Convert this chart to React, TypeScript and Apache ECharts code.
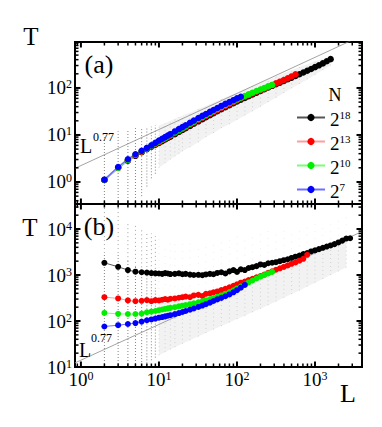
import React, { useEffect, useRef } from 'react';
import * as echarts from 'echarts';

const FONT = '"Liberation Serif", "Times New Roman", serif';

// system sizes L (shared grid of measured L values)
const L_VALUES = [2, 3, 4, 5, 6, 7, 8, 9, 10, 11, 12, 13, 14, 16, 18, 20, 22, 25, 28, 32, 36, 40, 45, 50, 56, 63, 71, 80, 90, 100, 112, 126, 141, 158, 178, 200, 224, 251, 282, 316, 355, 398, 447, 501, 562, 631, 708, 794, 891, 1000, 1122, 1259, 1413, 1585, 1778, 1995, 2239, 2512, 2818];

const SERIES_NAMES = ['N18', 'N13', 'N10', 'N7'];
const EXPONENTS = ['18', '13', '10', '7'];
const DOT_COLORS = ['#000000', '#ff0000', '#00ee00', '#0000ff'];
const LINE_COLORS = ['#555555', '#ff9c9c', '#77ff77', '#6f6fff'];

// panel (a)
const T_A_BLACK = [1.1, 2.0, 2.85, 3.6, 4.3, 5.0, 5.6, 6.2, 6.8, 7.4, 8.0, 8.6, 9.2, 10.4, 11.6, 12.8, 13.9, 15.6, 17.3, 19.5, 21.7, 23.8, 26.4, 29, 32, 35.4, 39, 43, 47.3, 51.5, 56.5, 61.5, 67, 73, 79.5, 86.5, 94, 102, 111, 120, 130, 141, 153, 166, 180, 196, 213, 232, 253, 278, 303, 333, 370, 410];
const T_A_RED = [1.1, 2.0, 2.9, 3.7, 4.4, 5.1, 5.7, 6.4, 7.0, 7.7, 8.3, 9.0, 9.6, 10.9, 12.1, 13.4, 14.6, 16.5, 18.3, 20.7, 23, 25.3, 28, 30.7, 33.8, 37.4, 41.3, 45.5, 50, 54.5, 59.5, 65, 70.5, 76.5, 83, 90, 97.5, 106, 115, 125, 136, 148, 161, 176, 195];
const T_A_GREEN = [1.1, 2.0, 2.95, 3.8, 4.5, 5.2, 5.9, 6.6, 7.3, 8.0, 8.7, 9.4, 10.0, 11.4, 12.7, 14.0, 15.3, 17.3, 19.2, 21.8, 24.2, 26.6, 29.5, 32.3, 35.6, 39.4, 43.5, 48, 52.5, 57, 62, 67.5, 73, 79, 86, 93, 100, 108, 116];
const T_A_BLUE = [1.12, 2.08, 3.05, 3.9, 4.6, 5.3, 6.0, 6.8, 7.6, 8.3, 9.0, 9.7, 10.4, 11.9, 13.3, 14.7, 16.1, 18.2, 20.2, 22.9, 25.5, 28, 31, 34, 37.5, 41.5, 46, 50, 55, 60, 65];

// panel (b)
const T_B_BLACK = [1840, 1510, 1280, 1180, 1150, 1130, 1100, 1090, 1080, 1060, 1100, 1080, 1050, 1060, 1090, 1040, 1060, 1020, 1000, 1010, 990, 1030, 1060, 1040, 1110, 1150, 1080, 1200, 1280, 1170, 1330, 1280, 1420, 1480, 1560, 1700, 1650, 1800, 1850, 1900, 2000, 2100, 2200, 2350, 2500, 2650, 2850, 3000, 3250, 3450, 3650, 3900, 4150, 4400, 4700, 5100, 5600, 6200, 6300];
const T_B_RED = [330, 310, 280, 270, 275, 285, 270, 285, 280, 290, 300, 290, 305, 310, 320, 330, 340, 330, 360, 370, 350, 390, 400, 420, 440, 470, 500, 540, 580, 630, 680, 720, 780, 830, 890, 950, 1020, 1120, 1200, 1300, 1400, 1500, 1620, 1750, 1880, 2050, 2250, 2750];
const T_B_GREEN = [150, 143, 142, 142, 145, 155, 160, 165, 172, 178, 183, 188, 193, 200, 208, 215, 222, 232, 242, 255, 268, 282, 298, 315, 335, 360, 390, 425, 465, 510, 560, 620, 690, 760, 840, 920, 1000, 1080, 1170];
const T_B_BLUE = [76, 81, 86, 90, 97, 104, 108, 113, 118, 122, 126, 130, 134, 141, 149, 157, 165, 176, 187, 202, 217, 232, 251, 272, 295, 318, 345, 378, 420, 468, 530, 610];

// reference power law L^0.77 (end points)
const GUIDE_A = [[0.84, 1.95], [4000, 1300]];
const GUIDE_B = [[0.84, 12.3], [4000, 8800]];

// gray cloud of individual runs: [L, low, high]
const CLOUD_A = [
  [2, 0.34, 9], [3, 0.34, 12], [4, 0.34, 13], [5, 0.34, 14], [6, 0.5, 14], [7, 0.8, 15], [8, 1.2, 15], [9, 1.5, 16],
  [10, 2, 16], [12, 2.5, 18], [14, 3, 20], [16, 3.5, 22], [18, 4, 24], [20, 4.5, 26], [25, 5.5, 30], [32, 7, 36],
  [40, 9, 42], [50, 11, 49], [63, 14, 58], [80, 17, 68], [100, 21, 80], [126, 26, 94], [158, 32, 110], [200, 40, 128],
  [251, 50, 150], [316, 62, 176], [398, 78, 205], [501, 98, 240], [631, 122, 280], [794, 152, 320], [1000, 190, 370],
  [1259, 240, 420], [1585, 300, 470],
];
// [L, low, dense-high, sparse-top]
const CLOUD_B = [
  [2, 10, 3000, 35000], [3, 10, 3000, 35000], [4, 10, 2000, 14000], [5, 10, 1500, 12000], [6, 11, 1200, 10000],
  [7, 12, 1000, 9000], [8, 14, 700, 8000], [9, 16, 500, 7000], [10, 18, 350, 6000], [12, 21, 300, 5000],
  [14, 24, 280, 5000], [16, 27, 270, 5000], [20, 32, 270, 5000], [25, 38, 280, 5000], [32, 46, 300, 5000],
  [40, 55, 330, 5000], [50, 65, 370, 6000], [63, 78, 420, 6000], [80, 93, 480, 6000], [100, 110, 560, 7000],
  [126, 130, 650, 7000], [158, 155, 760, 8000], [200, 185, 900, 8000], [251, 220, 1050, 9000], [316, 265, 1250, 9000],
  [398, 320, 1500, 10000], [501, 385, 1800, 10000], [631, 460, 2100, 12000], [794, 560, 2500, 12000],
  [1000, 680, 3000, 14000], [1259, 820, 3500, 14000], [1585, 1000, 4200, 15000], [1995, 1200, 5000, 16000],
  [2512, 1450, 6000, 18000],
];

const X_MIN = 0.84;
const X_MAX = 4000;
const Y_A = [0.34, 950];
const Y_B = [10, 35000];
const MANTISSAS = [1, 2, 3, 4, 5, 6, 7, 8, 9];
const DECADES = [-1, 0, 1, 2, 3, 4, 5];

function logTicks(min: number, max: number) {
  const out: { v: number; major: boolean }[] = [];
  for (const k of DECADES) {
    for (const m of MANTISSAS) {
      const v = m * Math.pow(10, k);
      if (v > min * 1.0005 && v < max / 1.0005) out.push({ v, major: m === 1 });
    }
  }
  return out;
}

function powLabel(v: number) {
  const lg = Math.log10(v);
  const k = Math.round(lg);
  if (Math.abs(lg - k) > 1e-6) return '';
  return `{b|10}{s|${k}}`;
}

const labelRich = {
  b: { fontFamily: FONT, fontSize: 19, lineHeight: 19, padding: [7, 0, 7, 0], verticalAlign: 'middle', color: '#000' },
  s: { fontFamily: FONT, fontSize: 12, lineHeight: 12, verticalAlign: 'top', color: '#000' },
};

function tickSeries(g: number, yr: number[]) {
  return {
    type: 'custom',
    xAxisIndex: g,
    yAxisIndex: g,
    silent: true,
    z: 20,
    data: [[1, yr[0] * 2]],
    renderItem: (_params: any, api: any) => {
      const children: any[] = [];
      const mk = (x1: number, y1: number, x2: number, y2: number, major: boolean) => ({
        type: 'line',
        shape: { x1, y1, x2, y2 },
        style: { stroke: '#000', lineWidth: major ? 2 : 1.5 },
      });
      for (const t of logTicks(X_MIN, X_MAX)) {
        const b = api.coord([t.v, yr[0]]);
        const tp = api.coord([t.v, yr[1]]);
        const len = t.major ? 5.5 : 3.5;
        children.push(mk(b[0], b[1], b[0], b[1] - len, t.major));
        children.push(mk(tp[0], tp[1], tp[0], tp[1] + len, t.major));
      }
      for (const t of logTicks(yr[0], yr[1])) {
        const l = api.coord([X_MIN, t.v]);
        const r = api.coord([X_MAX, t.v]);
        const len = t.major ? 5.5 : 3.5;
        children.push(mk(l[0], l[1], l[0] + len, l[1], t.major));
        children.push(mk(r[0], r[1], r[0] - len, r[1], t.major));
      }
      return { type: 'group', children };
    },
  };
}

function cloudSeries(g: number, cloud: number[][]) {
  return {
    type: 'custom',
    xAxisIndex: g,
    yAxisIndex: g,
    silent: true,
    clip: true,
    z: 1,
    data: cloud,
    renderItem: (params: any, api: any) => {
      const i = params.dataIndex;
      const row = cloud[i];
      const L = row[0];
      const small = L < 10;
      const children: any[] = [];
      const lo = api.coord([L, row[1]]);
      const hi = api.coord([L, row[2]]);
      children.push({
        type: 'line',
        shape: { x1: lo[0], y1: lo[1], x2: hi[0], y2: hi[1] },
        style: { stroke: small ? 'rgba(50,50,50,0.6)' : 'rgba(90,90,90,0.22)', lineWidth: 1, lineDash: small ? [1, 2] : [1, 3] },
      });
      if (row.length > 3) {
        const top = api.coord([L, row[3]]);
        children.push({
          type: 'line',
          shape: { x1: hi[0], y1: hi[1], x2: top[0], y2: top[1] },
          style: { stroke: small ? 'rgba(50,50,50,0.45)' : 'rgba(90,90,90,0.1)', lineWidth: 1, lineDash: small ? [1, 3] : [1, 6] },
        });
      }
      const next = cloud[i + 1];
      if (next && !small) {
        const nlo = api.coord([next[0], next[1]]);
        const nhi = api.coord([next[0], next[2]]);
        children.push({ type: 'polygon', shape: { points: [lo, nlo, nhi, hi] }, style: { fill: 'rgba(0,0,0,0.05)' } });
      }
      return { type: 'group', children };
    },
  };
}

const PANEL_A = [T_A_BLACK, T_A_RED, T_A_GREEN, T_A_BLUE];
const PANEL_B = [T_B_BLACK, T_B_RED, T_B_GREEN, T_B_BLUE];

function buildOption() {
  const series: any[] = [cloudSeries(0, CLOUD_A), cloudSeries(1, CLOUD_B)];
  series.push({ type: 'line', xAxisIndex: 0, yAxisIndex: 0, data: GUIDE_A, symbol: 'none', silent: true, z: 2, lineStyle: { color: '#8c8c8c', width: 0.8 } });
  series.push({ type: 'line', xAxisIndex: 1, yAxisIndex: 1, data: GUIDE_B, symbol: 'none', silent: true, z: 2, lineStyle: { color: '#8c8c8c', width: 0.8 } });
  [PANEL_A, PANEL_B].forEach((panel, g) => {
    panel.forEach((ts, s) => {
      series.push({
        type: 'line',
        name: SERIES_NAMES[s],
        xAxisIndex: g,
        yAxisIndex: g,
        data: ts.map((t, i) => [L_VALUES[i], t]),
        symbol: 'circle',
        symbolSize: g === 0 ? 6.5 : 6,
        lineStyle: { color: LINE_COLORS[s], width: g === 0 ? 1.5 : 1 },
        itemStyle: { color: DOT_COLORS[s] },
        emphasis: { disabled: true },
        z: 5,
      });
    });
  });
  series.push(tickSeries(0, Y_A));
  series.push(tickSeries(1, Y_B));

  const xAxisBase = { type: 'log', logBase: 10, min: X_MIN, max: X_MAX, axisLine: { show: false }, axisTick: { show: false }, splitLine: { show: false } };
  const yAxisBase = { type: 'log', logBase: 10, axisLine: { show: false }, axisTick: { show: false }, splitLine: { show: false } };

  return {
    animation: false,
    backgroundColor: '#ffffff',
    grid: [
      { left: 75, top: 42, width: 287, height: 162, show: true, borderColor: '#000', borderWidth: 2, backgroundColor: 'transparent' },
      { left: 75, top: 204, width: 287, height: 163, show: true, borderColor: '#000', borderWidth: 2, backgroundColor: 'transparent' },
    ],
    xAxis: [
      { ...xAxisBase, gridIndex: 0, axisLabel: { show: false } },
      { ...xAxisBase, gridIndex: 1, axisLabel: { show: true, margin: 3, formatter: powLabel, rich: labelRich, showMinLabel: true, showMaxLabel: true } },
    ],
    yAxis: [
      { ...yAxisBase, gridIndex: 0, min: Y_A[0], max: Y_A[1], axisLabel: { show: true, margin: 3, formatter: powLabel, rich: labelRich } },
      { ...yAxisBase, gridIndex: 1, min: Y_B[0], max: Y_B[1], axisLabel: { show: true, margin: 3, formatter: powLabel, rich: labelRich } },
    ],
    legend: {
      data: SERIES_NAMES,
      orient: 'vertical',
      left: 296,
      top: 106,
      padding: 0,
      itemGap: 1,
      itemWidth: 28,
      itemHeight: 9,
      selectedMode: false,
      formatter: (name: string) => `{b|2}{s|${EXPONENTS[SERIES_NAMES.indexOf(name)]}}`,
      textStyle: {
        rich: {
          b: { fontFamily: FONT, fontSize: 19, lineHeight: 17, padding: [4, 0, 0, 0], verticalAlign: 'middle', color: '#000' },
          s: { fontFamily: FONT, fontSize: 11, lineHeight: 11, verticalAlign: 'top', color: '#000' },
        },
      },
    },
    graphic: [
      { type: 'text', x: 31, y: 36, style: { text: 'T', fontFamily: FONT, fontSize: 25, fill: '#000', textAlign: 'center', textVerticalAlign: 'middle' } },
      { type: 'text', x: 30, y: 227, style: { text: 'T', fontFamily: FONT, fontSize: 25, fill: '#000', textAlign: 'center', textVerticalAlign: 'middle' } },
      { type: 'text', x: 348, y: 393, style: { text: 'L', fontFamily: FONT, fontSize: 26, fill: '#000', textAlign: 'center', textVerticalAlign: 'middle' } },
      { type: 'text', x: 99, y: 64, style: { text: '(a)', fontFamily: FONT, fontSize: 26, fill: '#000', textAlign: 'center', textVerticalAlign: 'middle' } },
      { type: 'text', x: 99, y: 226, style: { text: '(b)', fontFamily: FONT, fontSize: 26, fill: '#000', textAlign: 'center', textVerticalAlign: 'middle' } },
      { type: 'text', x: 80, y: 146, style: { text: 'L', fontFamily: FONT, fontSize: 20, fill: '#000', textAlign: 'left', textVerticalAlign: 'middle' } },
      { type: 'text', x: 93, y: 137, style: { text: '0.77', fontFamily: FONT, fontSize: 12, fill: '#000', textAlign: 'left', textVerticalAlign: 'middle' } },
      { type: 'text', x: 79, y: 350, style: { text: 'L', fontFamily: FONT, fontSize: 20, fill: '#000', textAlign: 'left', textVerticalAlign: 'middle' } },
      { type: 'text', x: 91, y: 338, style: { text: '0.77', fontFamily: FONT, fontSize: 12, fill: '#000', textAlign: 'left', textVerticalAlign: 'middle' } },
      { type: 'text', x: 335, y: 95, style: { text: 'N', fontFamily: FONT, fontSize: 18, fill: '#000', textAlign: 'center', textVerticalAlign: 'middle' } },
    ],
    series,
  };
}

export default function App() {
  const ref = useRef<HTMLDivElement>(null);
  useEffect(() => {
    if (!ref.current) return;
    const chart = echarts.init(ref.current, null, { renderer: 'svg' });
    chart.setOption(buildOption() as any);
    return () => chart.dispose();
  }, []);
  return (
    <div
      ref={ref}
      style={{ position: 'absolute', left: 0, top: 0, width: 382, height: 427, background: '#ffffff' }}
    />
  );
}
